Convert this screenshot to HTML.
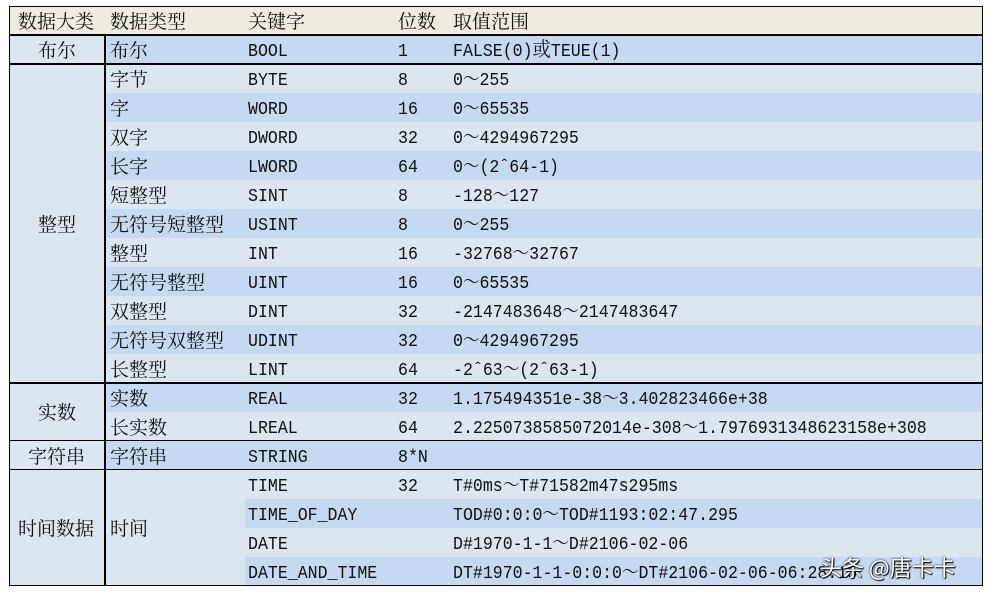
<!DOCTYPE html>
<html><head><meta charset="utf-8"><style>
body{margin:0;width:996px;height:594px;background:#fff;position:relative;overflow:hidden;font-family:"Liberation Mono","Noto Serif CJK SC",monospace;font-size:18px;color:#111}
.r{position:absolute;left:10px;width:973px;height:29px}
.d{background:#C5D9F1}.l{background:#DCE6F1}
.c{position:absolute;line-height:29px;white-space:nowrap;transform:translateY(3px) scaleX(0.92);transform-origin:0 0}
.z{font-family:"Noto Serif CJK SC","Noto Sans CJK SC",serif;font-size:19px;transform:none}
.c .z{font-size:20px;line-height:0}
.hl{position:absolute;background:#000}
</style></head><body>
<div class="r" style="top:6px;background:#EEECE1"></div>
<div class="c z" style="left:18px;top:6px">数据大类</div>
<div class="c z" style="left:110px;top:6px">数据类型</div>
<div class="c z" style="left:248px;top:6px">关键字</div>
<div class="c z" style="left:398px;top:6px">位数</div>
<div class="c z" style="left:453px;top:6px">取值范围</div>
<div class="r d" style="top:35px"></div><div class="r l" style="top:64px"></div><div class="r d" style="top:93px"></div><div class="r l" style="top:122px"></div><div class="r d" style="top:151px"></div><div class="r l" style="top:180px"></div><div class="r d" style="top:209px"></div><div class="r l" style="top:238px"></div><div class="r d" style="top:267px"></div><div class="r l" style="top:296px"></div><div class="r d" style="top:325px"></div><div class="r l" style="top:354px"></div><div class="r d" style="top:383px"></div><div class="r l" style="top:412px"></div><div class="r d" style="top:441px"></div><div class="r l" style="top:470px"></div><div class="r d" style="top:499px"></div><div class="r l" style="top:528px"></div><div class="r d" style="top:557px"></div>
<div style="position:absolute;left:10px;top:35px;width:95px;height:551px;background:#DCE6F1"></div>
<div style="position:absolute;left:105px;top:470px;width:140px;height:116px;background:#DCE6F1"></div>
<div style="position:absolute;left:105px;top:441px;width:140px;height:29px;background:#C5D9F1"></div>
<div class="c z" style="left:38px;top:35px">布尔</div>
<div class="c z" style="left:38px;top:209px">整型</div>
<div class="c z" style="left:38px;top:397px">实数</div>
<div class="c z" style="left:28px;top:441px">字符串</div>
<div class="c z" style="left:18px;top:513px">时间数据</div>
<div class="c z" style="left:110px;top:513px">时间</div>
<div class="c z" style="left:110px;top:35px">布尔</div>
<div class="c z" style="left:110px;top:64px">字节</div>
<div class="c z" style="left:110px;top:93px">字</div>
<div class="c z" style="left:110px;top:122px">双字</div>
<div class="c z" style="left:110px;top:151px">长字</div>
<div class="c z" style="left:110px;top:180px">短整型</div>
<div class="c z" style="left:110px;top:209px">无符号短整型</div>
<div class="c z" style="left:110px;top:238px">整型</div>
<div class="c z" style="left:110px;top:267px">无符号整型</div>
<div class="c z" style="left:110px;top:296px">双整型</div>
<div class="c z" style="left:110px;top:325px">无符号双整型</div>
<div class="c z" style="left:110px;top:354px">长整型</div>
<div class="c z" style="left:110px;top:383px">实数</div>
<div class="c z" style="left:110px;top:412px">长实数</div>
<div class="c z" style="left:110px;top:441px">字符串</div>
<div class="c" style="left:248px;top:35px">BOOL</div><div class="c" style="left:398px;top:35px">1</div><div class="c" style="left:453px;top:35px">FALSE(0)<span class="z">或</span>TEUE(1)</div>
<div class="c" style="left:248px;top:64px">BYTE</div><div class="c" style="left:398px;top:64px">8</div><div class="c" style="left:453px;top:64px">0～255</div>
<div class="c" style="left:248px;top:93px">WORD</div><div class="c" style="left:398px;top:93px">16</div><div class="c" style="left:453px;top:93px">0～65535</div>
<div class="c" style="left:248px;top:122px">DWORD</div><div class="c" style="left:398px;top:122px">32</div><div class="c" style="left:453px;top:122px">0～4294967295</div>
<div class="c" style="left:248px;top:151px">LWORD</div><div class="c" style="left:398px;top:151px">64</div><div class="c" style="left:453px;top:151px">0～(2ˆ64-1)</div>
<div class="c" style="left:248px;top:180px">SINT</div><div class="c" style="left:398px;top:180px">8</div><div class="c" style="left:453px;top:180px">-128～127</div>
<div class="c" style="left:248px;top:209px">USINT</div><div class="c" style="left:398px;top:209px">8</div><div class="c" style="left:453px;top:209px">0～255</div>
<div class="c" style="left:248px;top:238px">INT</div><div class="c" style="left:398px;top:238px">16</div><div class="c" style="left:453px;top:238px">-32768～32767</div>
<div class="c" style="left:248px;top:267px">UINT</div><div class="c" style="left:398px;top:267px">16</div><div class="c" style="left:453px;top:267px">0～65535</div>
<div class="c" style="left:248px;top:296px">DINT</div><div class="c" style="left:398px;top:296px">32</div><div class="c" style="left:453px;top:296px">-2147483648～2147483647</div>
<div class="c" style="left:248px;top:325px">UDINT</div><div class="c" style="left:398px;top:325px">32</div><div class="c" style="left:453px;top:325px">0～4294967295</div>
<div class="c" style="left:248px;top:354px">LINT</div><div class="c" style="left:398px;top:354px">64</div><div class="c" style="left:453px;top:354px">-2ˆ63～(2ˆ63-1)</div>
<div class="c" style="left:248px;top:383px">REAL</div><div class="c" style="left:398px;top:383px">32</div><div class="c" style="left:453px;top:383px">1.175494351e-38～3.402823466e+38</div>
<div class="c" style="left:248px;top:412px">LREAL</div><div class="c" style="left:398px;top:412px">64</div><div class="c" style="left:453px;top:412px">2.2250738585072014e-308～1.7976931348623158e+308</div>
<div class="c" style="left:248px;top:441px">STRING</div><div class="c" style="left:398px;top:441px">8*N</div>
<div class="c" style="left:248px;top:470px">TIME</div><div class="c" style="left:398px;top:470px">32</div><div class="c" style="left:453px;top:470px">T#0ms～T#71582m47s295ms</div>
<div class="c" style="left:248px;top:499px">TIME_OF_DAY</div><div class="c" style="left:453px;top:499px">TOD#0:0:0～TOD#1193:02:47.295</div>
<div class="c" style="left:248px;top:528px">DATE</div><div class="c" style="left:453px;top:528px">D#1970-1-1～D#2106-02-06</div>
<div class="c" style="left:248px;top:557px">DATE_AND_TIME</div><div class="c" style="left:453px;top:557px">DT#1970-1-1-0:0:0～DT#2106-02-06-06:28:15</div>
<div class="hl" style="left:10px;top:6px;width:973px;height:1px"></div>
<div class="hl" style="left:10px;top:34px;width:973px;height:2px"></div>
<div class="hl" style="left:10px;top:63px;width:973px;height:2px"></div>
<div class="hl" style="left:10px;top:382px;width:973px;height:2px"></div>
<div class="hl" style="left:10px;top:440px;width:973px;height:1px"></div>
<div class="hl" style="left:10px;top:469px;width:973px;height:1px"></div>
<div class="hl" style="left:10px;top:585px;width:973px;height:1px"></div>
<div class="hl" style="left:9px;top:6px;width:1px;height:580px"></div>
<div class="hl" style="left:982px;top:6px;width:1px;height:580px"></div>
<div class="hl" style="left:104px;top:35px;width:2px;height:551px"></div>
<div style="position:absolute;left:820px;top:553px;line-height:29px;font-family:'Noto Sans CJK SC',sans-serif;font-size:22px;color:#fff;text-shadow:0 0 2px #000,1px 1px 1px #000;white-space:nowrap">头条 @唐卡卡</div>
</body></html>
